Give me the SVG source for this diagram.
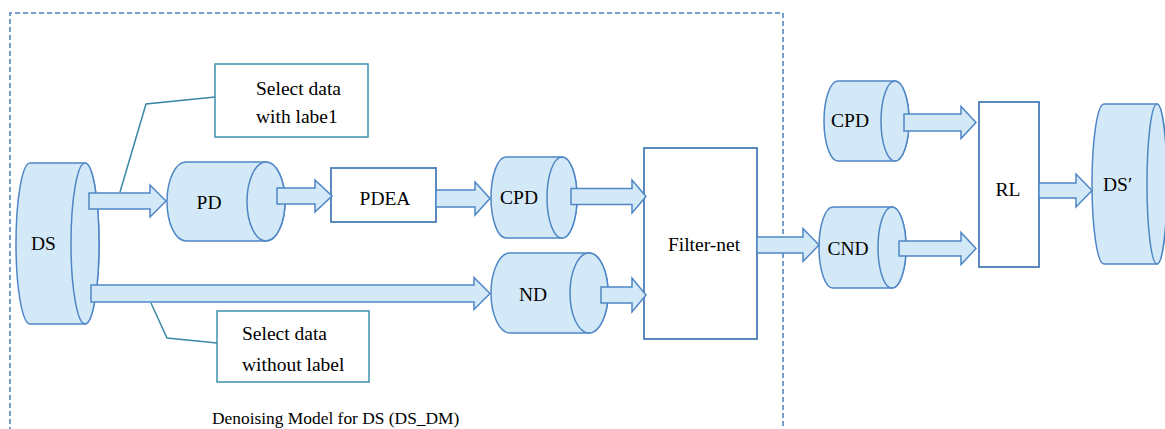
<svg xmlns="http://www.w3.org/2000/svg" width="1165" height="429" viewBox="0 0 1165 429">
  <style>
    .cyl { fill: #d4e9f7; stroke: #4f86c6; stroke-width: 1.5; }
    .arrow { fill: #d4e9f7; stroke: #4f86c6; stroke-width: 1.5; stroke-linejoin: miter; }
    .box { fill: #ffffff; stroke: #4a7ebb; stroke-width: 1.8; }
    .note { fill: #ffffff; stroke: #3f8fae; stroke-width: 1.5; }
    .lead { fill: none; stroke: #3a88a6; stroke-width: 1.5; }
    .frame { fill: none; stroke: #4a7ebb; stroke-width: 1.5; stroke-dasharray: 5 3; }
    .t { font-family: 'Liberation Serif', 'DejaVu Serif', serif; font-size: 19.5px; fill: #000000; }
    .mid { text-anchor: middle; }
    .cap { font-size: 17.4px; }
  </style>

  <!-- dashed frame of the denoising model -->
  <path class="frame" d="M10,440 L10,13 L783,13 L783,440"/>
  <text class="t cap" font-family="Liberation Serif, serif" x="212" y="424">Denoising Model for DS (DS_DM)</text>

  <!-- data stores (horizontal cylinders) -->
  <g id="DS">
    <path class="cyl" d="M30,163 L85,163 A14,80.5 0 0 1 85,324 L30,324 A14,80.5 0 0 1 30,163 Z"/>
    <ellipse class="cyl" cx="85" cy="243.5" rx="14" ry="80.5"/>
    <text class="t mid" font-family="Liberation Serif, serif" x="43.5" y="250">DS</text>
  </g>
  <g id="PD">
    <path class="cyl" d="M186,162 L266,162 A19,39.5 0 0 1 266,241 L186,241 A19,39.5 0 0 1 186,162 Z"/>
    <ellipse class="cyl" cx="266" cy="201.5" rx="19" ry="39.5"/>
    <text class="t mid" font-family="Liberation Serif, serif" x="209" y="209">PD</text>
  </g>
  <g id="PDEA">
    <rect class="box" x="331" y="168" width="105" height="54"/>
    <text class="t mid" font-family="Liberation Serif, serif" x="385" y="205">PDEA</text>
  </g>
  <g id="CPD">
    <path class="cyl" d="M506,157 L562,157 A15,40.5 0 0 1 562,238 L506,238 A15,40.5 0 0 1 506,157 Z"/>
    <ellipse class="cyl" cx="562" cy="197.5" rx="15" ry="40.5"/>
    <text class="t mid" font-family="Liberation Serif, serif" x="519" y="204">CPD</text>
  </g>
  <g id="ND">
    <path class="cyl" d="M510,253 L589,253 A19,40 0 0 1 589,333 L510,333 A19,40 0 0 1 510,253 Z"/>
    <ellipse class="cyl" cx="589" cy="293" rx="19" ry="40"/>
    <text class="t mid" font-family="Liberation Serif, serif" x="533" y="301">ND</text>
  </g>
  <g id="FilterNet">
    <rect class="box" x="644" y="148" width="113" height="191"/>
    <text class="t mid" font-family="Liberation Serif, serif" x="704" y="251">Filter-net</text>
  </g>
  <g id="SelectLabelled">
    <rect class="note" x="215" y="64" width="153" height="73"/>
    <text class="t" font-family="Liberation Serif, serif" x="256" y="95">Select data</text>
    <text class="t" font-family="Liberation Serif, serif" x="256" y="123">with labe1</text>
  </g>
  <g id="SelectUnlabelled">
    <rect class="note" x="217" y="311" width="152" height="71"/>
    <text class="t" font-family="Liberation Serif, serif" x="242" y="340">Select data</text>
    <text class="t" font-family="Liberation Serif, serif" x="242" y="371">without label</text>
  </g>
  <g id="CPD2">
    <path class="cyl" d="M838,81 L895,81 A14,40 0 0 1 895,161 L838,161 A14,40 0 0 1 838,81 Z"/>
    <ellipse class="cyl" cx="895" cy="121" rx="14" ry="40"/>
    <text class="t mid" font-family="Liberation Serif, serif" x="850" y="127">CPD</text>
  </g>
  <g id="CND">
    <path class="cyl" d="M833,207 L892,207 A14,40.5 0 0 1 892,288 L833,288 A14,40.5 0 0 1 833,207 Z"/>
    <ellipse class="cyl" cx="892" cy="247.5" rx="14" ry="40.5"/>
    <text class="t mid" font-family="Liberation Serif, serif" x="848" y="255">CND</text>
  </g>
  <g id="RL">
    <rect class="box" x="979" y="102" width="60" height="165"/>
    <text class="t mid" font-family="Liberation Serif, serif" x="1008" y="196">RL</text>
  </g>
  <g id="DSprime">
    <path class="cyl" d="M1104,104 L1157,104 A10,80 0 0 1 1157,264 L1104,264 A12,80 0 0 1 1104,104 Z"/>
    <ellipse class="cyl" cx="1157" cy="184" rx="10" ry="80"/>
    <text class="t" font-family="Liberation Serif, serif" x="1103" y="191">DS′</text>
  </g>

  <!-- connectors: block arrows and leader lines -->
  <g id="connectors">
    <path class="arrow" d="M89,193 L150,193 L150,185 L166,201 L150,217 L150,209 L89,209 Z"/>
    <path class="arrow" d="M91,285 L474,285 L474,277.5 L490,293.5 L474,309.5 L474,302 L91,302 Z"/>
    <path class="arrow" d="M277,188 L315,188 L315,180 L332,196 L315,212 L315,204 L277,204 Z"/>
    <path class="arrow" d="M436,190 L475,190 L475,182 L490,198.5 L475,215 L475,207 L436,207 Z"/>
    <path class="arrow" d="M571,188.5 L632,188.5 L632,180 L646,196.5 L632,213 L632,204.5 L571,204.5 Z"/>
    <path class="arrow" d="M601,287 L632,287 L632,278 L646,295 L632,312 L632,303 L601,303 Z"/>
    <path class="arrow" d="M757,237 L803,237 L803,228.5 L819,245 L803,261.5 L803,253 L757,253 Z"/>
    <path class="arrow" d="M904,114 L961,114 L961,106.5 L976,122.5 L961,138.5 L961,131 L904,131 Z"/>
    <path class="arrow" d="M899,241 L961,241 L961,232.5 L976,248.5 L961,264.5 L961,256 L899,256 Z"/>
    <path class="arrow" d="M1039,183 L1076,183 L1076,174 L1092,190.5 L1076,207 L1076,198 L1039,198 Z"/>
    <polyline class="lead" points="120,192 146,104 215,97"/>
    <polyline class="lead" points="151,303 167,338 217,343"/>
  </g>
</svg>
